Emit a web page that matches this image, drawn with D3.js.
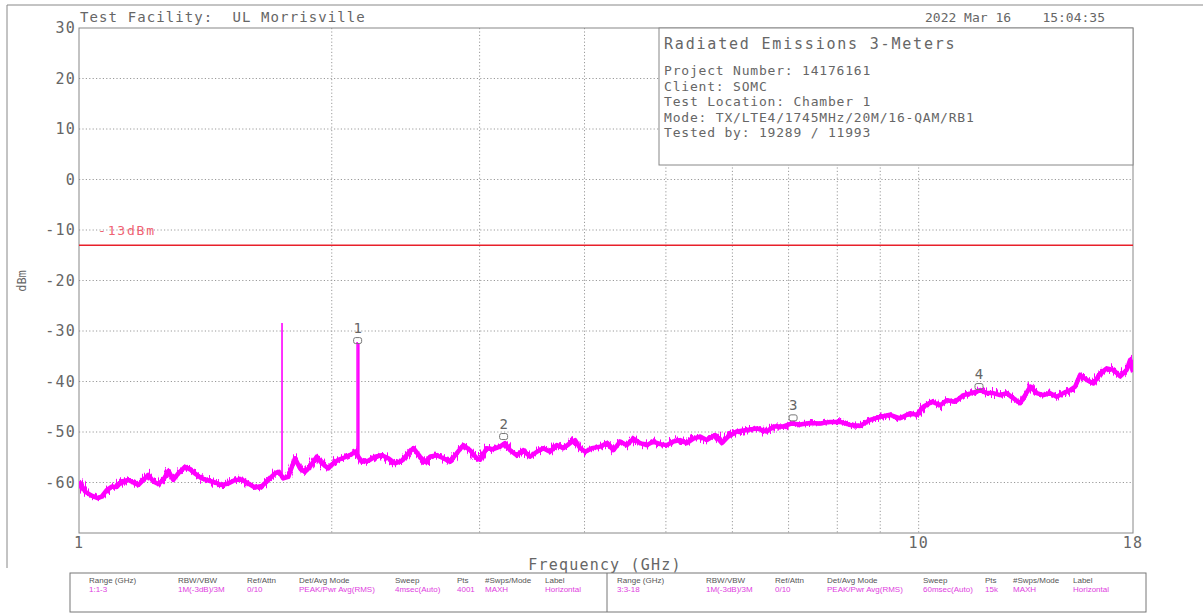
<!DOCTYPE html>
<html>
<head>
<meta charset="utf-8">
<script src="https://cdn.jsdelivr.net/npm/d3@7/dist/d3.min.js"></script>
<style>
  html, body { margin: 0; padding: 0; background: #fff; }
  svg text { font-family: "DejaVu Sans Mono", monospace; white-space: pre; }
</style>
</head>
<body>
<svg id="chart" width="1203" height="613"></svg>
<script>
// ---------------- data ----------------
const traceGHz = [1.000,1.003,1.017,1.035,1.053,1.064,1.079,1.094,1.109,1.124,1.145,1.161,1.177,1.193,1.209,1.226,1.243,1.260,1.278,1.295,1.313,1.337,1.356,1.374,1.400,1.426,1.452,1.479,1.506,1.534,1.562,1.591,1.620,1.651,1.681,1.712,1.731,1.751,1.775,1.808,1.833,1.858,1.884,1.919,1.946,1.981,2.009,2.036,2.074,2.112,2.132,2.171,2.211,2.252,2.294,2.336,2.378,2.423,2.467,2.502,2.548,2.584,2.619,2.667,2.716,2.766,2.818,2.869,2.922,2.976,3.003,3.059,3.115,3.172,3.216,3.261,3.321,3.382,3.444,3.510,3.573,3.639,3.707,3.775,3.845,3.898,3.952,4.007,4.081,4.175,4.252,4.330,4.410,4.491,4.574,4.658,4.745,4.831,4.920,5.012,5.104,5.198,5.295,5.392,5.491,5.593,5.722,5.829,5.933,6.072,6.242,6.415,6.594,6.714,6.902,7.062,7.224,7.425,7.632,7.844,8.062,8.286,8.516,8.752,8.995,9.245,9.502,9.767,9.948,10.13,10.37,10.61,10.80,11.05,11.31,11.57,11.84,12.05,12.27,12.50,12.73,12.96,13.21,13.39,13.58,13.82,14.08,14.34,14.60,14.87,15.15,15.36,15.57,15.86,16.15,16.45,16.75,17.06,17.38,17.69,17.86,18.00];
const traceDbm = [-59.8,-60.1,-61.8,-62.6,-63.1,-62.8,-61.5,-60.8,-60.9,-59.8,-59.5,-60.0,-60.5,-59.5,-58.5,-59.8,-60.3,-59.5,-57.7,-59.5,-58.2,-56.9,-57.4,-58.2,-59.2,-59.6,-60.0,-60.5,-60.2,-59.5,-59.4,-60.2,-61.0,-60.7,-59.5,-58.2,-57.9,-59.2,-58.9,-55.2,-57.2,-57.9,-56.9,-54.9,-56.2,-57.2,-56.2,-55.5,-55.0,-54.4,-53.9,-55.9,-55.7,-54.9,-54.6,-55.2,-56.2,-55.7,-54.2,-53.2,-54.9,-55.9,-54.9,-54.6,-55.2,-55.9,-54.2,-52.6,-53.6,-55.2,-55.5,-53.2,-53.4,-52.9,-52.2,-53.6,-54.6,-53.6,-54.9,-53.9,-53.2,-53.9,-52.6,-53.2,-52.2,-51.6,-53.2,-53.9,-53.2,-52.9,-52.2,-53.6,-51.9,-52.6,-51.3,-52.2,-52.6,-51.9,-52.4,-52.6,-51.9,-51.6,-52.2,-51.3,-50.9,-51.6,-50.6,-52.2,-50.9,-49.9,-49.6,-49.3,-49.9,-48.9,-48.9,-48.3,-48.5,-48.2,-48.3,-48.0,-48.0,-48.6,-48.8,-47.6,-47.0,-46.6,-47.3,-46.3,-46.6,-45.0,-44.0,-44.7,-43.7,-44.0,-42.7,-42.3,-41.7,-42.3,-42.3,-42.7,-42.3,-43.3,-44.3,-42.7,-41.0,-42.3,-42.7,-42.3,-43.0,-42.3,-41.7,-41.0,-38.7,-39.7,-40.4,-38.4,-37.4,-37.7,-39.0,-37.7,-35.7,-38.1];

// narrow spurious spikes in the trace
const spikeGHz  = [1.745, 2.144, 2.154];
const spikeBase = [-58.5, -54.2, -55.0];
const spikeTop  = [-28.4, -32.2, -32.4];

// markers
const markerNum = ["1", "2", "3", "4"];
const markerGHz = [2.147, 3.204, 7.087, 11.80];
const markerDbm = [-31.9, -50.9, -47.2, -41.0];

const limitDbm = -13;
const limitLabel = "-13dBm";

const yTicks = [30, 20, 10, 0, -10, -20, -30, -40, -50, -60];
const xGridGHz = [2, 3, 4, 5, 6, 7, 8, 9, 10];
const xTickGHz = [1, 10, 18];

const titleLeft = "Test Facility:  UL Morrisville";
const titleRight = "2022 Mar 16    15:04:35";
const infoTitle = "Radiated Emissions 3-Meters";
const infoLines = ["Project Number: 14176161", "Client: SOMC", "Test Location: Chamber 1",
                   "Mode: TX/LTE4/1745MHz/20M/16-QAM/RB1", "Tested by: 19289 / 11993"];

const tableHeaders = ["Range (GHz)", "RBW/VBW", "Ref/Attn", "Det/Avg Mode", "Sweep", "Pts", "#Swps/Mode", "Label"];
const tableRange1 = ["1:1-3", "1M(-3dB)/3M", "0/10", "PEAK/Pwr Avg(RMS)", "4msec(Auto)", "4001", "MAXH", "Horizontal"];
const tableRange2 = ["3:3-18", "1M(-3dB)/3M", "0/10", "PEAK/Pwr Avg(RMS)", "60msec(Auto)", "15k", "MAXH", "Horizontal"];

// ---------------- layout ----------------
const svg = d3.select("#chart");
const L = 79, R = 1133, T = 28, B = 533;
const x = d3.scaleLog().domain([1, 18]).range([L, R]);
const y = d3.scaleLinear().domain([-70, 30]).range([B, T]);
const gray = "#666", gridCol = "#9a9a9a";

// noise filter giving the swept trace its grainy look
const defs = svg.append("defs");
const filt = defs.append("filter").attr("id", "grain").attr("filterUnits", "userSpaceOnUse")
  .attr("x", L - 10).attr("y", T - 10).attr("width", R - L + 20).attr("height", B - T + 20);
filt.append("feTurbulence").attr("type", "fractalNoise").attr("baseFrequency", "0.55 0.04")
  .attr("numOctaves", 2).attr("seed", 7).attr("result", "t");
filt.append("feDisplacementMap").attr("in", "SourceGraphic").attr("in2", "t").attr("scale", 13)
  .attr("xChannelSelector", "B").attr("yChannelSelector", "R");

// outer frame
svg.append("line").attr("x1", 7).attr("x2", 1203).attr("y1", 5).attr("y2", 5).attr("stroke", "#888");
svg.append("line").attr("x1", 7).attr("x2", 7).attr("y1", 5).attr("y2", 568).attr("stroke", "#888");

// gridlines
svg.append("g").selectAll("line").data(yTicks.filter(d => d < 30)).join("line")
  .attr("x1", L).attr("x2", R).attr("y1", d => y(d)).attr("y2", d => y(d))
  .attr("stroke", gridCol).attr("stroke-dasharray", "1.2,2.2");
svg.append("g").selectAll("line").data(xGridGHz).join("line")
  .attr("x1", d => x(d)).attr("x2", d => x(d)).attr("y1", T).attr("y2", B)
  .attr("stroke", gridCol).attr("stroke-dasharray", "1.2,2.2");

// plot frame
svg.append("rect").attr("x", L).attr("y", T).attr("width", R - L).attr("height", B - T)
  .attr("fill", "none").attr("stroke", "#888").attr("stroke-width", 1);

// y tick labels
svg.append("g").selectAll("text").data(yTicks).join("text")
  .attr("x", L - 3).attr("y", d => y(d)).attr("dy", "0.36em")
  .attr("text-anchor", "end").attr("font-size", 15).attr("letter-spacing", 1.2)
  .attr("fill", gray).text(d => d);

// x tick labels
svg.append("g").selectAll("text").data(xTickGHz).join("text")
  .attr("x", d => x(d)).attr("y", 548).attr("text-anchor", "middle")
  .attr("font-size", 15).attr("letter-spacing", 1.2).attr("fill", gray).text(d => d);

// axis titles
svg.append("text").attr("x", 605).attr("y", 570).attr("text-anchor", "middle")
  .attr("font-size", 15).attr("letter-spacing", 1.2).attr("fill", gray).text("Frequency (GHz)");
svg.append("text").attr("transform", "translate(26,281) rotate(-90)").attr("text-anchor", "middle")
  .attr("font-size", 12).attr("fill", gray).text("dBm");

// header texts
svg.append("text").attr("x", 80).attr("y", 22).attr("font-size", 14).attr("letter-spacing", 1.1)
  .attr("fill", gray).text(titleLeft);
svg.append("text").attr("x", 1105).attr("y", 22).attr("text-anchor", "end").attr("font-size", 13)
  .attr("fill", gray).text(titleRight);

// limit line
svg.append("line").attr("x1", L).attr("x2", R).attr("y1", y(limitDbm)).attr("y2", y(limitDbm))
  .attr("stroke", "#e8202a").attr("stroke-width", 1.5);
svg.append("text").attr("x", 98).attr("y", y(-10)).attr("dy", "0.36em").attr("font-size", 13)
  .attr("letter-spacing", 1.8).attr("fill", "#ef6272").text(limitLabel);

// trace
defs.append("clipPath").attr("id", "pc").append("rect")
  .attr("x", L).attr("y", T).attr("width", R - L).attr("height", B - T);
const pts = traceGHz.map((f, i) => [f, traceDbm[i]]);
const line = d3.line().x(d => x(d[0])).y(d => y(d[1]));
const tg = svg.append("g").attr("clip-path", "url(#pc)");
tg.append("path").datum(pts).attr("d", line).attr("fill", "none")
  .attr("stroke", "#ff00ff").attr("stroke-width", 4.5).attr("stroke-linejoin", "round");
tg.append("g").attr("filter", "url(#grain)").append("path").datum(pts).attr("d", line).attr("fill", "none")
  .attr("stroke", "#ff00ff").attr("stroke-width", 4).attr("stroke-linejoin", "round");
tg.selectAll("line.spike").data(spikeGHz).join("line").attr("class", "spike")
  .attr("x1", d => x(d)).attr("x2", d => x(d))
  .attr("y1", (d, i) => y(spikeBase[i])).attr("y2", (d, i) => y(spikeTop[i]))
  .attr("stroke", "#ff00ff").attr("stroke-width", 1.6);

// markers
const mg = svg.append("g").selectAll("g").data(markerNum).join("g")
  .attr("transform", (d, i) => `translate(${x(markerGHz[i])},${y(markerDbm[i])})`);
mg.append("rect").attr("x", -4).attr("y", -3).attr("width", 8).attr("height", 6).attr("rx", 2)
  .attr("fill", "none").attr("stroke", "#777").attr("stroke-width", 1);
mg.append("text").attr("x", 0).attr("y", -8).attr("text-anchor", "middle")
  .attr("font-size", 14).attr("fill", gray).text(d => d);

// info box
svg.append("rect").attr("x", 659).attr("y", T).attr("width", R - 659).attr("height", 137)
  .attr("fill", "#fff").attr("stroke", "#888");
svg.append("text").attr("x", 664).attr("y", 49).attr("font-size", 15).attr("letter-spacing", 1.8)
  .attr("fill", gray).text(infoTitle);
svg.append("g").selectAll("text").data(infoLines).join("text")
  .attr("x", 664).attr("y", (d, i) => 75 + i * 15.5).attr("font-size", 13).attr("letter-spacing", 0.8)
  .attr("fill", gray).text(d => d);

// settings table
const tabL = 70, tabM = 607, tabR = 1146, tabT = 573, tabB = 612;
svg.append("rect").attr("x", tabL).attr("y", tabT).attr("width", tabR - tabL).attr("height", tabB - tabT)
  .attr("fill", "none").attr("stroke", "#777");
svg.append("line").attr("x1", tabM).attr("x2", tabM).attr("y1", tabT).attr("y2", tabB).attr("stroke", "#777");
const colX = [89, 178, 247, 299, 395, 457, 485, 545];
[[tableRange1, 0], [tableRange2, 528]].forEach(([vals, off]) => {
  svg.append("g").selectAll("text").data(tableHeaders).join("text")
    .attr("x", (d, i) => colX[i] + off).attr("y", 583)
    .attr("font-size", 8).attr("fill", "#555").style("font-family", "Liberation Sans, sans-serif").text(d => d);
  svg.append("g").selectAll("text").data(vals).join("text")
    .attr("x", (d, i) => colX[i] + off).attr("y", 592)
    .attr("font-size", 8).attr("fill", "#e040e0").style("font-family", "Liberation Sans, sans-serif").text(d => d);
});
</script>
</body>
</html>
